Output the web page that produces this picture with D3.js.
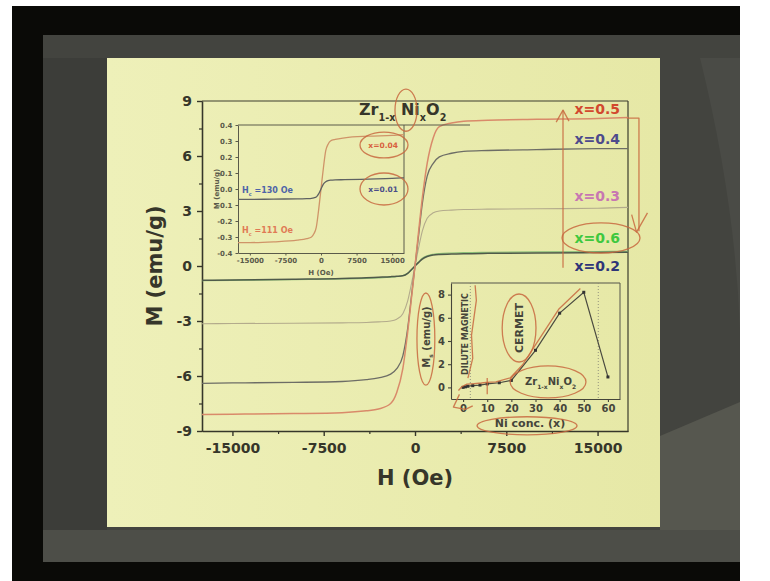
<!DOCTYPE html>
<html><head><meta charset="utf-8">
<script src="https://cdn.jsdelivr.net/npm/d3@7"></script>
<style>
html,body{margin:0;padding:0;background:#fff;}
svg{display:block;}
text{font-family:"DejaVu Sans",sans-serif;font-weight:bold;}
</style></head><body>
<svg id="chart" width="770" height="581"></svg>
<script>
// ---------- Main panel: M-H loops of Zr(1-x)Ni(x)O2 ----------
const fieldMain = [-17500,-15000,-10000,-6000,-4000,-3000,-2000,-1500,-1000,-600,-300,0,300,600,1000,1500,2000,3000,4000,6000,10000,15000,17500];
const mX05 = [-8.1,-8.08,-8.05,-8.0,-7.9,-7.8,-7.5,-6.9,-5.6,-3.6,-1.8,0.0,1.9,3.7,5.6,7.0,7.6,7.8,7.9,7.95,8.0,8.05,8.1];
const mX04 = [-6.4,-6.38,-6.35,-6.3,-6.2,-6.1,-5.9,-5.6,-4.9,-3.4,-1.7,0.0,1.7,3.4,4.9,5.6,5.95,6.15,6.25,6.3,6.35,6.4,6.4];
const mX03 = [-3.15,-3.14,-3.12,-3.1,-3.08,-3.05,-3.0,-2.9,-2.6,-1.9,-1.0,0.0,1.0,1.9,2.6,2.9,3.0,3.05,3.08,3.1,3.12,3.15,3.2];
const mX06 = [-0.8,-0.78,-0.75,-0.71,-0.68,-0.65,-0.61,-0.58,-0.52,-0.4,-0.22,0.0,0.22,0.42,0.56,0.64,0.68,0.71,0.73,0.75,0.77,0.79,0.8];
const mX02 = [-0.78,-0.76,-0.72,-0.68,-0.64,-0.61,-0.58,-0.56,-0.53,-0.4,-0.2,0.0,0.2,0.38,0.52,0.6,0.63,0.65,0.67,0.69,0.71,0.73,0.75];
const seriesNames = ["x=0.6","x=0.2","x=0.3","x=0.4","x=0.5"];
const hTicks = [-15000,-7500,0,7500,15000];
const hMinorTicks = [-11250,-3750,3750,11250];
const mTicks = [-9,-6,-3,0,3,6,9];
const mMinorTicks = [-7.5,-4.5,-1.5,1.5,4.5,7.5];

// ---------- Upper inset: low-x loops ----------
const fieldInset = [-17500,-15000,-10000,-5000,-3000,-2000,-1500,-1000,-500,0,500,1000,1500,2000,3000,5000,10000,15000,17500];
const mX004 = [-0.335,-0.335,-0.33,-0.32,-0.31,-0.3,-0.28,-0.24,-0.13,0.0,0.13,0.24,0.28,0.3,0.31,0.32,0.33,0.335,0.34];
const mX001 = [-0.065,-0.065,-0.063,-0.062,-0.06,-0.058,-0.055,-0.05,-0.03,0.0,0.03,0.045,0.052,0.055,0.057,0.058,0.062,0.066,0.07];
const insetHTicks = [-15000,-7500,0,7500,15000];
const insetMTicks = [-0.4,-0.3,-0.2,-0.1,0.0,0.1,0.2,0.3,0.4];

// ---------- Lower inset: saturation magnetisation vs Ni content ----------
const niConc = [0,1,2,4,7,10,15,20,30,40,50,60];
const msValues = [0.0,0.05,0.1,0.15,0.2,0.3,0.4,0.6,3.2,6.4,8.2,0.9];
const concTicks = [0,10,20,30,40,50,60];
const msTicks = [0,2,4,6,8];
const regionBounds = [3,56];

// ---------- Scales ----------
const xMain = d3.scaleLinear().domain([-17500,17500]).range([202,628]);
const yMain = d3.scaleLinear().domain([-9,9]).range([431,101]);
const xIn1 = d3.scaleLinear().domain([-17500,17500]).range([238,404]);
const yIn1 = d3.scaleLinear().domain([-0.4,0.4]).range([253,125]);
const xIn2 = d3.scaleLinear().domain([-5,65]).range([451,620]);
const yIn2 = d3.scaleLinear().domain([-1,9]).range([399,283]);

const svg = d3.select("#chart");
const defs = svg.append("defs");
const g1 = defs.append("linearGradient").attr("id","slideGrad").attr("x1","0").attr("x2","1").attr("y1","0").attr("y2","0");
g1.append("stop").attr("offset","0").attr("stop-color","#eef0b9");
g1.append("stop").attr("offset","1").attr("stop-color","#e6e8a6");

// ---------- Projection frame ----------
svg.append("rect").attr("x",12).attr("y",6).attr("width",728).attr("height",575).attr("fill","#0a0a07");
svg.append("rect").attr("x",43).attr("y",35).attr("width",697).attr("height",527).attr("fill","#43443f");
svg.append("rect").attr("x",43).attr("y",58).attr("width",64).attr("height",472).attr("fill","#3c3d39");
svg.append("path").attr("d","M660,436 L740,402 L740,530 L660,530 Z").attr("fill","#56574f");
svg.append("path").attr("d","M700,58 Q735,200 740,330 L740,58 Z").attr("fill","#4a4b46");
svg.append("rect").attr("x",43).attr("y",530).attr("width",697).attr("height",32).attr("fill","#4d4e48");
svg.append("rect").attr("x",107).attr("y",58).attr("width",553).attr("height",469).attr("fill","url(#slideGrad)");

const inkDark = "#36362a";
const axisInk = "#3c3c2e";

function styleAxis(g, size, color, width) {
  g.selectAll("text").attr("font-size", size).attr("fill", color);
  g.selectAll("line,path").attr("stroke", color).attr("stroke-width", width);
}
const fmt = d => String(d).replace("\u2212","-");

// ---------- Main axes ----------
const gxMain = svg.append("g").attr("transform",`translate(0,${yMain(-9)})`)
  .call(d3.axisBottom(xMain).tickValues(hTicks).tickSize(5).tickSizeOuter(0).tickPadding(7).tickFormat(fmt));
styleAxis(gxMain, 14, inkDark, 1.4);
const gxMinor = svg.append("g").attr("transform",`translate(0,${yMain(-9)})`)
  .call(d3.axisBottom(xMain).tickValues(hMinorTicks).tickSize(3).tickSizeOuter(0).tickFormat(""));
styleAxis(gxMinor, 14, inkDark, 1.2);
const gyMain = svg.append("g").attr("transform",`translate(${xMain(-17500)},0)`)
  .call(d3.axisLeft(yMain).tickValues(mTicks).tickSize(5).tickSizeOuter(0).tickPadding(5).tickFormat(fmt));
styleAxis(gyMain, 14, inkDark, 1.4);
const gyMinor = svg.append("g").attr("transform",`translate(${xMain(-17500)},0)`)
  .call(d3.axisLeft(yMain).tickValues(mMinorTicks).tickSize(3).tickSizeOuter(0).tickFormat(""));
styleAxis(gyMinor, 14, inkDark, 1.2);
// top and right frame lines
svg.append("line").attr("x1",xMain(-17500)).attr("x2",xMain(17500)).attr("y1",yMain(9)).attr("y2",yMain(9)).attr("stroke",axisInk).attr("stroke-width",1.2);
svg.append("line").attr("x1",xMain(17500)).attr("x2",xMain(17500)).attr("y1",yMain(9)).attr("y2",yMain(-9)).attr("stroke",axisInk).attr("stroke-width",1.2);

svg.append("text").attr("x",415).attr("y",485).attr("text-anchor","middle").attr("font-size",21).attr("fill",inkDark).text("H (Oe)");
svg.append("text").attr("transform","translate(162,266) rotate(-90)").attr("text-anchor","middle").attr("font-size",21).attr("fill",inkDark).text("M (emu/g)");

// chemical formula with subscripts
function formula(parent, x, y, size, parts, color, anchor) {
  const t = parent.append("text").attr("x",x).attr("y",y).attr("font-size",size).attr("fill",color).attr("text-anchor",anchor||"start");
  let shifted = false;
  parts.forEach(([s, sub]) => {
    const ts = t.append("tspan").text(s);
    if (sub && !shifted) { ts.attr("dy", size*0.38).attr("font-size", size*0.6); shifted = true; }
    else if (sub) { ts.attr("font-size", size*0.6); }
    else if (!sub && shifted) { ts.attr("dy", -size*0.38); shifted = false; }
  });
  return t;
}
const formulaParts = [["Zr",0],["1-x",1],[" Ni",0],["x",1],["O",0],["2",1]];
formula(svg, 359, 115, 16, formulaParts, inkDark);

// ---------- Main curves ----------
const mainData = {"x=0.6":mX06,"x=0.2":mX02,"x=0.3":mX03,"x=0.4":mX04,"x=0.5":mX05};
const curveStyle = {
  "x=0.6":{stroke:"#8cbf78",w:1.2},
  "x=0.2":{stroke:"#4f5a4a",w:1.5},
  "x=0.3":{stroke:"#b3ab8c",w:1.1},
  "x=0.4":{stroke:"#6d6d66",w:1.3},
  "x=0.5":{stroke:"#d98a6a",w:1.5}
};
const lineMain = d3.line().x(d=>xMain(d[0])).y(d=>yMain(d[1])).curve(d3.curveMonotoneX);
seriesNames.forEach(name => {
  const pts = fieldMain.map((h,i)=>[h, mainData[name][i]]);
  svg.append("path").attr("d", lineMain(pts)).attr("fill","none")
    .attr("stroke", curveStyle[name].stroke).attr("stroke-width", curveStyle[name].w);
});

// series labels at right
const labelStyle = [
  {name:"x=0.5", color:"#d2482e", m:8.3},
  {name:"x=0.4", color:"#4d4a8c", m:6.65},
  {name:"x=0.3", color:"#c777b2", m:3.55},
  {name:"x=0.6", color:"#3fc83f", m:1.25},
  {name:"x=0.2", color:"#2f3578", m:-0.27}
];
labelStyle.forEach(l => {
  svg.append("text").attr("x",620).attr("y",yMain(l.m)).attr("text-anchor","end")
    .attr("font-size",14).attr("fill",l.color).text(l.name);
});

// ---------- Upper inset ----------
const in1 = svg.append("g");
const gx1 = in1.append("g").attr("transform",`translate(0,${yIn1(-0.4)})`)
  .call(d3.axisBottom(xIn1).tickValues(insetHTicks).tickSize(2.5).tickSizeOuter(0).tickPadding(3).tickFormat(fmt));
styleAxis(gx1, 7, "#5a5a4a", 1);
const gy1 = in1.append("g").attr("transform",`translate(${xIn1(-17500)},0)`)
  .call(d3.axisLeft(yIn1).tickValues(insetMTicks).tickSize(2.5).tickSizeOuter(0).tickPadding(3).tickFormat(d=>fmt(d3.format(".1f")(d))));
styleAxis(gy1, 7, "#5a5a4a", 1);
in1.append("line").attr("x1",xIn1(-17500)).attr("x2",470).attr("y1",yIn1(0.4)).attr("y2",yIn1(0.4)).attr("stroke","#5a5a4a").attr("stroke-width",1);
in1.append("line").attr("x1",xIn1(17500)).attr("x2",xIn1(17500)).attr("y1",yIn1(0.4)).attr("y2",yIn1(-0.4)).attr("stroke","#5a5a4a").attr("stroke-width",1);
in1.append("text").attr("x",xIn1(0)).attr("y",275).attr("text-anchor","middle").attr("font-size",7).attr("fill","#5a5a4a").text("H (Oe)");
in1.append("text").attr("transform",`translate(219,${yIn1(0)}) rotate(-90)`).attr("text-anchor","middle").attr("font-size",7).attr("fill","#5a5a4a").text("M (emu/g)");

const lineIn1 = d3.line().x(d=>xIn1(d[0])).y(d=>yIn1(d[1])).curve(d3.curveMonotoneX);
in1.append("path").attr("d", lineIn1(fieldInset.map((h,i)=>[h,mX004[i]]))).attr("fill","none").attr("stroke","#cf9468").attr("stroke-width",1.3);
in1.append("path").attr("d", lineIn1(fieldInset.map((h,i)=>[h,mX001[i]]))).attr("fill","none").attr("stroke","#5f6262").attr("stroke-width",1.3);

function coercive(parent, x, y, val, color) {
  const t = parent.append("text").attr("x",x).attr("y",y).attr("font-size",8).attr("fill",color);
  t.append("tspan").text("H");
  t.append("tspan").attr("dy",2.5).attr("font-size",5).text("c");
  t.append("tspan").attr("dy",-2.5).text(" =" + val + " Oe");
}
coercive(in1, 242, 193, 130, "#4e64a8");
coercive(in1, 242, 233, 111, "#e07a55");
in1.append("text").attr("x",398).attr("y",yIn1(0.275)+3).attr("text-anchor","end").attr("font-size",7.5).attr("fill","#d8603e").text("x=0.04");
in1.append("text").attr("x",398).attr("y",yIn1(0.0)+3).attr("text-anchor","end").attr("font-size",7.5).attr("fill","#4c4c88").text("x=0.01");

// ---------- Lower inset ----------
const in2 = svg.append("g");
const gx2 = in2.append("g").attr("transform",`translate(0,${yIn2(-1)})`)
  .call(d3.axisBottom(xIn2).tickValues(concTicks).tickSize(3).tickSizeOuter(0).tickPadding(3).tickFormat(fmt));
styleAxis(gx2, 10, "#45453a", 1.1);
const gy2 = in2.append("g").attr("transform",`translate(${xIn2(-5)},0)`)
  .call(d3.axisLeft(yIn2).tickValues(msTicks).tickSize(3).tickSizeOuter(0).tickPadding(3).tickFormat(fmt));
styleAxis(gy2, 10, "#45453a", 1.1);
in2.append("line").attr("x1",xIn2(-5)).attr("x2",xIn2(65)).attr("y1",yIn2(9)).attr("y2",yIn2(9)).attr("stroke","#55554a").attr("stroke-width",1);
in2.append("line").attr("x1",xIn2(65)).attr("x2",xIn2(65)).attr("y1",yIn2(9)).attr("y2",yIn2(-1)).attr("stroke","#55554a").attr("stroke-width",1);
regionBounds.forEach(c => {
  in2.append("line").attr("x1",xIn2(c)).attr("x2",xIn2(c)).attr("y1",yIn2(9)).attr("y2",yIn2(-1))
    .attr("stroke","#8a8a78").attr("stroke-width",0.9).attr("stroke-dasharray","1,2");
});
in2.append("text").attr("x",530).attr("y",427).attr("text-anchor","middle").attr("font-size",11).attr("fill","#45453a").text("Ni conc. (x)");
const msLab = in2.append("text").attr("transform","translate(430,337) rotate(-90)").attr("text-anchor","middle").attr("font-size",10).attr("fill","#45453a");
msLab.append("tspan").text("M");
msLab.append("tspan").attr("dy",3).attr("font-size",6).text("s");
msLab.append("tspan").attr("dy",-3).text(" (emu/g)");
in2.append("text").attr("transform","translate(468,334) rotate(-90)").attr("text-anchor","middle").attr("font-size",8).attr("fill","#45453a").text("DILUTE MAGNETIC");
in2.append("text").attr("transform","translate(523,328) rotate(-90)").attr("text-anchor","middle").attr("font-size",11).attr("fill","#45453a").text("CERMET");
formula(in2, 525, 385, 10, [["Zr",0],["1-x",1],["Ni",0],["x",1],["O",0],["2",1]], "#45453a");

const lineIn2 = d3.line().x(d=>xIn2(d[0])).y(d=>yIn2(d[1]));
const msPts = niConc.map((c,i)=>[c, msValues[i]]);
in2.append("path").attr("d", lineIn2(msPts)).attr("fill","none").attr("stroke","#4a4a40").attr("stroke-width",1.2);
in2.selectAll("rect.pt").data(msPts).join("rect").attr("class","pt")
  .attr("x",d=>xIn2(d[0])-1.5).attr("y",d=>yIn2(d[1])-1.5).attr("width",3).attr("height",3).attr("fill","#333");

// ---------- Hand-drawn marker annotations ----------
const pen = "#c8683f";
function ring(parent, cx, cy, rx, ry) {
  parent.append("ellipse").attr("cx",cx).attr("cy",cy).attr("rx",rx).attr("ry",ry)
    .attr("fill","none").attr("stroke",pen).attr("stroke-width",1.3).attr("stroke-opacity",0.85);
}
// rings measured in each panel's own units
ring(svg, xMain(-740), yMain(8.5), xMain(904)-xMain(0), yMain(0)-yMain(1.15));
ring(svg, xMain(15283), yMain(1.53), xMain(3204)-xMain(0), yMain(0)-yMain(0.82));
ring(svg, xIn1(13283), yIn1(0.275), xIn1(5060)-xIn1(0), yIn1(0)-yIn1(0.081));
ring(svg, xIn1(13283), yIn1(0.0), xIn1(5060)-xIn1(0), yIn1(0)-yIn1(0.1));
ring(svg, xIn2(-15.4), yIn2(4.17), xIn2(3.7)-xIn2(0), yIn2(0)-yIn2(3.97));
ring(svg, xIn2(23.2), yIn2(5.12), xIn2(7.0)-xIn2(0), yIn2(0)-yIn2(2.93));
ring(svg, xIn2(35.2), yIn2(0.47), xIn2(15.7)-xIn2(0), yIn2(0)-yIn2(1.38));
ring(svg, xIn2(26.5), yIn2(-3.31), xIn2(20.7)-xIn2(0), yIn2(0)-yIn2(0.78));

const penLine = d3.line().x(d=>d[0]).y(d=>d[1]);
function stroke(pts) {
  svg.append("path").attr("d", penLine(pts)).attr("fill","none").attr("stroke",pen)
    .attr("stroke-width",1.3).attr("stroke-opacity",0.85).attr("stroke-linejoin","round");
}
// upward arrow next to the labels
stroke([[xMain(12160), yMain(-0.1)], [xMain(12160), yMain(8.5)]]);
stroke([[xMain(11600), yMain(7.85)], [xMain(12160), yMain(8.5)], [xMain(12650), yMain(7.9)]]);
// bracket arrow down to x=0.6
stroke([[xMain(17400), yMain(8.07)], [xMain(18400), yMain(8.07)], [xMain(18400), yMain(1.9)]]);
stroke([[xMain(17800), yMain(2.8)], [xMain(18200), yMain(1.85)], [xMain(19100), yMain(2.9)]]);
// trace over the Ms curve
const traceConc = [-1.5,0,2,5,8,10,14,20,25,30,40,49];
const traceMs = [-0.4,-0.05,0.15,0.2,0.25,0.3,0.35,0.7,1.8,3.4,6.6,8.4];
stroke(traceConc.map((c,i)=>[xIn2(c)-1, yIn2(traceMs[i])-1.5]));
stroke([[xIn2(10), yIn2(-0.6)], [xIn2(10), yIn2(0.8)]]);
stroke([[xIn2(-1.5), yIn2(-0.6)], [xIn2(-4), yIn2(-1.7)], [xIn2(1), yIn2(-1.9)], [xIn2(4), yIn2(-1.6)]]);
stroke([[xIn2(2), yIn2(0.8)], [xIn2(4), yIn2(2.5)], [xIn2(3.5), yIn2(4.5)], [xIn2(5.5), yIn2(7.5)], [xIn2(5), yIn2(8.8)]]);
</script>
</body></html>
